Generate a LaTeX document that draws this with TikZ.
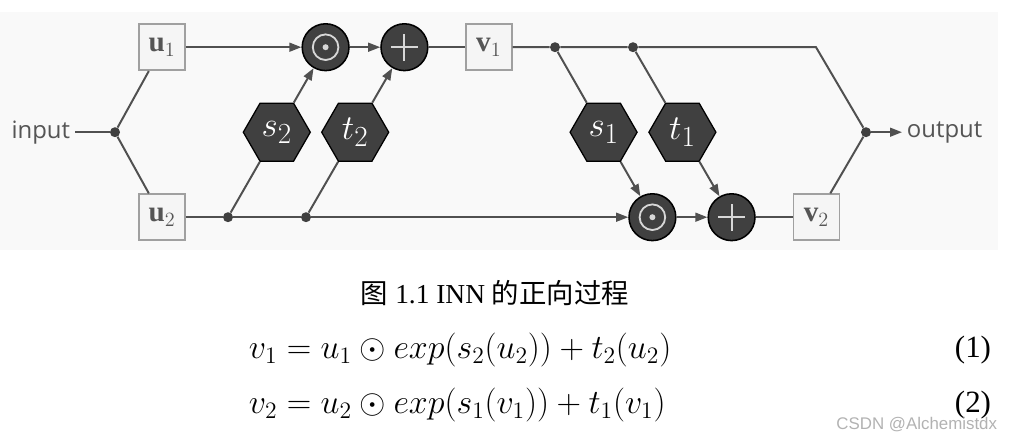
\documentclass[tikz,border=0pt]{standalone}
\usepackage{fontspec}
\setmainfont{Liberation Serif}
\newfontfamily\cjk{Noto Sans CJK SC}
\newfontfamily\labelfont{Open Sans}
\newfontfamily\markfont{Liberation Sans}
\usepackage{graphicx}
\usepackage{xcolor}
\usepackage{tikz}
\usetikzlibrary{shapes.geometric, arrows.meta, positioning, calc}
\definecolor{wiregray}{RGB}{80, 80, 80}
\definecolor{opfill}{RGB}{64, 64, 64}
\definecolor{opsign}{RGB}{215, 215, 215}
\definecolor{boxfill}{RGB}{245, 245, 245}
\definecolor{boxline}{RGB}{160, 160, 160}
\definecolor{textgray}{RGB}{85, 85, 85}
\definecolor{panelgray}{RGB}{249, 249, 249}
\tikzset{
    varbox/.style={rectangle, draw=boxline, fill=boxfill, minimum size=1.15cm,
                   inner sep=0pt, line width=1.2pt, text=textgray,
                   font=\fontsize{20.74}{24}\selectfont},
    opnode/.style={circle, draw=black, fill=opfill, minimum size=1.17cm,
                   inner sep=0pt, line width=1.1pt},
    mulnode/.style={opnode, path picture={
        \draw[opsign, line width=1.3pt] (path picture bounding box.center) circle (0.32cm);
        \fill[opsign] (path picture bounding box.center) circle (0.075cm);}},
    addnode/.style={opnode, path picture={
        \draw[opsign, line width=1.3pt]
            ([xshift=-0.34cm]path picture bounding box.center) -- ++(0.68cm,0)
            ([yshift=-0.34cm]path picture bounding box.center) -- ++(0,0.68cm);}},
    netnode/.style={regular polygon, regular polygon sides=6, draw=black,
                    fill=opfill, minimum size=1.675cm, inner sep=0pt,
                    line width=0.9pt, text=white,
                    font=\fontsize{24.88}{28}\selectfont},
    joint/.style={circle, fill=opfill, minimum size=0.25cm, inner sep=0pt},
    iolabel/.style={text=textgray, font=\labelfont\fontsize{17}{20}\selectfont},
    eqline/.style={anchor=west, font=\fontsize{20.74}{25}\selectfont},
}

\begin{document}
\begin{tikzpicture}[
    wire/.style={draw=wiregray, line width=1.4pt},
    arr/.style={wire, -{Triangle[length=3mm, width=2.2mm]}},
]
    \useasboundingbox (0,0) rectangle (25.4,-11.025);
    \fill[panelgray] (0,-0.3) rectangle (24.95,-6.25);

    % Input split
    \node[iolabel, anchor=east] (inlbl) at (1.875,-3.305) {input};
    \node[joint] (jin) at (2.875,-3.305) {};
    \node[varbox] (u1) at (4.05,-1.18) {$\mathbf{u}_1$};
    \node[varbox] (u2) at (4.05,-5.43) {$\mathbf{u}_2$};

    % First coupling
    \node[joint] (j1) at (5.7,-5.43) {};
    \node[joint] (j2) at (7.65,-5.43) {};
    \node[mulnode] (mul1) at (8.14,-1.18) {};
    \node[addnode] (add1) at (10.11,-1.18) {};
    \node[netnode] (s2) at (6.92,-3.305) {$s_2$};
    \node[netnode] (t2) at (8.88,-3.305) {$t_2$};
    \node[varbox] (v1) at (12.22,-1.18) {$\mathbf{v}_1$};

    % Second coupling
    \node[joint] (j3) at (13.875,-1.18) {};
    \node[joint] (j4) at (15.825,-1.18) {};
    \node[mulnode] (mul2) at (16.31,-5.43) {};
    \node[addnode] (add2) at (18.29,-5.43) {};
    \node[netnode] (s1) at (15.09,-3.305) {$s_1$};
    \node[netnode] (t1) at (17.06,-3.305) {$t_1$};
    \node[varbox] (v2) at (20.41,-5.43) {$\mathbf{v}_2$};

    % Output merge
    \coordinate (bend) at (20.4,-1.18);
    \node[joint] (jout) at (21.65,-3.305) {};
    \node[iolabel, anchor=west] (outlbl) at (22.55,-3.305) {output};

    % Wires
    \draw[wire] (inlbl) -- (jin);
    \draw[wire] (jin) -- (u1);
    \draw[wire] (jin) -- (u2);
    \draw[arr] (u1) -- (mul1);
    \draw[arr] (mul1) -- (add1);
    \draw[wire] (add1) -- (v1);
    \draw[wire] (u2) -- (j1) -- (j2);
    \draw[arr] (j2) -- (mul2);
    \draw[wire] (j1) -- (s2);
    \draw[arr] (s2) -- (mul1);
    \draw[wire] (j2) -- (t2);
    \draw[arr] (t2) -- (add1);
    \draw[wire] (v1) -- (j3) -- (j4) -- (bend) -- (jout);
    \draw[wire] (j3) -- (s1);
    \draw[arr] (s1) -- (mul2);
    \draw[wire] (j4) -- (t1);
    \draw[arr] (t1) -- (add2);
    \draw[arr] (mul2) -- (add2);
    \draw[wire] (add2) -- (v2);
    \draw[wire] (v2) -- (jout);
    \draw[arr] (jout) -- (outlbl);

    % Caption and equations
    \node[font=\fontsize{19.5}{23}\selectfont] (cap) at (12.375,-7.33)
        {{\cjk 图} 1.1 INN {\cjk 的正向过程}};
    \node[eqline] (eq1) at (6.1,-8.75)
        {\scalebox{1.165}{$v_1 = u_1 \odot exp(s_2(u_2)) + t_2(u_2)$}};
    \node[eqline] (eq2) at (6.1,-10.13)
        {\scalebox{1.165}{$v_2 = u_2 \odot exp(s_1(v_1)) + t_1(v_1)$}};
    \node[anchor=east, font=\fontsize{22}{26}\selectfont] (no1) at (24.9,-8.75) {(1)};
    \node[anchor=east, font=\fontsize{22}{26}\selectfont] (no2) at (24.9,-10.13) {(2)};
    \node[anchor=east, text=gray!60, font=\markfont\fontsize{12}{14}\selectfont]
        (mark) at (25.05,-10.62) {CSDN @Alchemistdx};
\end{tikzpicture}
\end{document}
